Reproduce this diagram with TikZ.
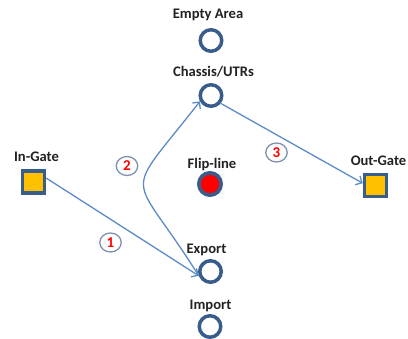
\documentclass[tikz,border=0pt]{standalone}
\usepackage{fontspec}
\setmainfont{Carlito}
\usetikzlibrary{arrows.meta,shapes.geometric}
\definecolor{ringblue}{HTML}{385D8A}
\definecolor{flowblue}{HTML}{5B8BC8}
\definecolor{gategold}{HTML}{FFC000}
\definecolor{tagrim}{HTML}{8090AC}
\definecolor{labelink}{HTML}{222222}
\tikzset{
  slot/.style={circle, draw=ringblue, line width=3.5pt, minimum size=21.5pt, inner sep=0pt},
  flipslot/.style={circle, draw=ringblue, fill=red, line width=3.7pt, minimum size=22.3pt, inner sep=0pt},
  gate/.style={rectangle, draw=ringblue, fill=gategold, line width=3.5pt, minimum size=22pt, inner sep=0pt},
  caption/.style={anchor=base, font=\bfseries\fontsize{14.6}{16}\selectfont, text=labelink, inner sep=0pt},
  tag/.style={ellipse, draw=tagrim, line width=1.3pt, minimum width=21.5pt, minimum height=19pt, inner sep=0pt,
              text=red, font=\bfseries\fontsize{15}{17}\selectfont},
  flow/.style={draw=flowblue, line width=1.3pt, -{Straight Barb[length=5pt,width=10pt]}}
}
\begin{document}
\begin{tikzpicture}[x=1pt, y=-1pt]
  \useasboundingbox (0,0) rectangle (408,339);

  % yard positions
  \node[slot] (empty) at (211,40.5) {};
  \node[slot] (chassis) at (211,95.5) {};
  \node[flipslot] (flip) at (210,184) {};
  \node[slot] (export) at (210.5,271.5) {};
  \node[slot] (import) at (210,326.5) {};
  \node[gate] (ingate) at (33.5,182) {};
  \node[gate] (outgate) at (375.5,185.5) {};

  % captions
  \node[caption] (lempty) at (208,18.5) {Empty Area};
  \node[caption] (lchassis) at (213.5,76.5) {Chassis/UTRs};
  \node[caption] (lingate) at (36.5,162) {In-Gate};
  \node[caption] (lflip) at (212,168.5) {Flip-line};
  \node[caption] (loutgate) at (378.5,166) {Out-Gate};
  \node[caption] (lexport) at (206.5,254) {Export};
  \node[caption] (limport) at (210.5,310) {Import};

  % move sequence
  \draw[flow] (ingate.17) -- (export.200);
  \draw[flow] (export.200) to[out=122, in=232, looseness=1.9] (chassis.208);
  \draw[flow] (chassis.-39) -- (outgate.170);

  % step numbers
  \node[tag] (t1) at (110.5,242.5) {1};
  \node[tag] (t2) at (127,166) {2};
  \node[tag] (t3) at (276.5,152.5) {3};
\end{tikzpicture}
\end{document}
